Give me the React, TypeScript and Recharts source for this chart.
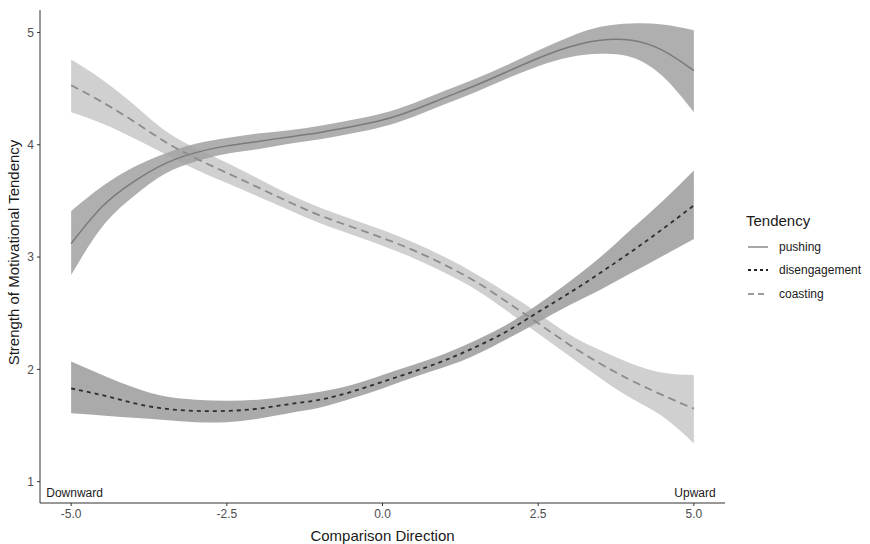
import React from 'react';
import { ComposedChart, Area, Line, XAxis, YAxis, ReferenceDot } from 'recharts';

const xs = [-5, -4.5, -4, -3.5, -3, -2.5, -2, -1.5, -1, -0.5, 0, 0.5, 1, 1.5, 2, 2.5, 3, 3.5, 4, 4.5, 5];

const pushing = [3.12, 3.45, 3.67, 3.83, 3.93, 3.99, 4.03, 4.07, 4.11, 4.16, 4.22, 4.31, 4.42, 4.53, 4.65, 4.77, 4.87, 4.93, 4.93, 4.84, 4.66];
const pushingHi = [3.41, 3.63, 3.8, 3.92, 4.01, 4.06, 4.1, 4.13, 4.17, 4.22, 4.28, 4.37, 4.48, 4.59, 4.71, 4.84, 4.96, 5.05, 5.08, 5.07, 5.02];
const pushingLo = [2.84, 3.27, 3.54, 3.74, 3.85, 3.92, 3.96, 4.01, 4.05, 4.1, 4.16, 4.25, 4.36, 4.47, 4.59, 4.7, 4.78, 4.81, 4.78, 4.61, 4.29];

const disengagement = [1.83, 1.77, 1.7, 1.65, 1.63, 1.63, 1.65, 1.69, 1.73, 1.8, 1.89, 1.98, 2.08, 2.2, 2.34, 2.51, 2.68, 2.86, 3.05, 3.25, 3.46];
const disengagementHi = [2.07, 1.95, 1.84, 1.76, 1.73, 1.72, 1.73, 1.76, 1.8, 1.86, 1.95, 2.04, 2.14, 2.26, 2.4, 2.58, 2.78, 3.0, 3.25, 3.5, 3.77];
const disengagementLo = [1.61, 1.59, 1.57, 1.55, 1.53, 1.53, 1.56, 1.61, 1.66, 1.74, 1.83, 1.93, 2.02, 2.13, 2.27, 2.42, 2.57, 2.71, 2.86, 3.01, 3.16];

const coasting = [4.53, 4.38, 4.21, 4.03, 3.88, 3.75, 3.62, 3.49, 3.37, 3.27, 3.17, 3.06, 2.93, 2.78, 2.6, 2.41, 2.22, 2.05, 1.9, 1.77, 1.65];
const coastingHi = [4.76, 4.58, 4.36, 4.13, 3.97, 3.84, 3.7, 3.56, 3.44, 3.34, 3.24, 3.13, 3.0, 2.85, 2.68, 2.5, 2.31, 2.17, 2.05, 1.97, 1.95];
const coastingLo = [4.29, 4.19, 4.06, 3.92, 3.78, 3.66, 3.54, 3.42, 3.3, 3.2, 3.1, 2.99, 2.86, 2.71, 2.52, 2.32, 2.12, 1.92, 1.74, 1.58, 1.34];

const xTicks = [-5, -2.5, 0, 2.5, 5];
const yTicks = [1, 2, 3, 4, 5];

const legendItems = [
  { name: 'pushing', color: '#8a8a8a', dash: undefined, width: 1.5 },
  { name: 'disengagement', color: '#222222', dash: '3 3', width: 1.8 },
  { name: 'coasting', color: '#9a9a9a', dash: '6 4', width: 1.8 },
];

const data = xs.map((x, i) => ({
  x,
  pushing: pushing[i],
  pushingBand: [pushingLo[i], pushingHi[i]],
  disengagement: disengagement[i],
  disengagementBand: [disengagementLo[i], disengagementHi[i]],
  coasting: coasting[i],
  coastingBand: [coastingLo[i], coastingHi[i]],
}));

const font = '"Liberation Sans", Arial, sans-serif';
const tickStyle = { fill: '#4d4d4d', fontSize: 12, fontFamily: font };

const TextMark = (anchor: 'start' | 'end', text: string) => (p: any) => (
  <text x={p.cx} y={p.cy} textAnchor={anchor} dominantBaseline="central" fontSize={12} fontFamily={font} fill="#1a1a1a">
    {text}
  </text>
);

export default function App() {
  return (
    <div style={{ position: 'absolute', left: 0, top: 0, width: 870, height: 544, background: '#fff', fontFamily: font }}>
      <ComposedChart width={870} height={544} data={data} margin={{ top: 10, right: 145, bottom: 0, left: 0 }}>
        <XAxis
          type="number"
          dataKey="x"
          domain={[-5.5, 5.5]}
          ticks={xTicks}
          tickFormatter={(v: number) => v.toFixed(1)}
          height={41}
          tick={tickStyle}
          tickSize={3}
          tickMargin={3}
          stroke="#333333"
          allowDataOverflow
          label={{ value: 'Comparison Direction', position: 'insideBottom', offset: 3, fill: '#1a1a1a', fontSize: 15, fontFamily: font }}
        />
        <YAxis
          type="number"
          domain={[0.81, 5.2]}
          ticks={yTicks}
          width={40}
          tick={tickStyle}
          tickSize={3}
          tickMargin={3}
          stroke="#333333"
          allowDataOverflow
          label={{ value: 'Strength of Motivational Tendency', angle: -90, position: 'center', dx: -6, dy: -4, fill: '#1a1a1a', fontSize: 15, fontFamily: font }}
        />
        <Area dataKey="pushingBand" type="natural" stroke="none" fill="#6e6e6e" fillOpacity={0.55} isAnimationActive={false} />
        <Area dataKey="disengagementBand" type="natural" stroke="none" fill="#6a6a6a" fillOpacity={0.57} isAnimationActive={false} />
        <Area dataKey="coastingBand" type="natural" stroke="none" fill="#a2a2a2" fillOpacity={0.5} isAnimationActive={false} />
        <Line dataKey="pushing" type="natural" stroke="#7a7a7a" strokeWidth={1.5} dot={false} isAnimationActive={false} />
        <Line dataKey="disengagement" type="natural" stroke="#2e2e2e" strokeWidth={1.8} strokeDasharray="4 4" dot={false} isAnimationActive={false} />
        <Line dataKey="coasting" type="natural" stroke="#8c8c8c" strokeWidth={1.8} strokeDasharray="8 5" dot={false} isAnimationActive={false} />
        <ReferenceDot x={-5.4} y={0.9} r={0} ifOverflow="visible" shape={TextMark('start', 'Downward')} />
        <ReferenceDot x={5.35} y={0.9} r={0} ifOverflow="visible" shape={TextMark('end', 'Upward')} />
      </ComposedChart>
      <div style={{ position: 'absolute', left: 746, top: 211, color: '#1a1a1a' }}>
        <div style={{ fontSize: 15, lineHeight: '20px', marginBottom: 4 }}>Tendency</div>
        {legendItems.map((it) => (
          <div key={it.name} style={{ display: 'flex', alignItems: 'center', height: 23.5, fontSize: 12 }}>
            <svg width={24} height={10} style={{ marginRight: 9 }}>
              <line x1={2} y1={5} x2={22} y2={5} stroke={it.color} strokeWidth={it.width} strokeDasharray={it.dash} />
            </svg>
            <span>{it.name}</span>
          </div>
        ))}
      </div>
    </div>
  );
}
